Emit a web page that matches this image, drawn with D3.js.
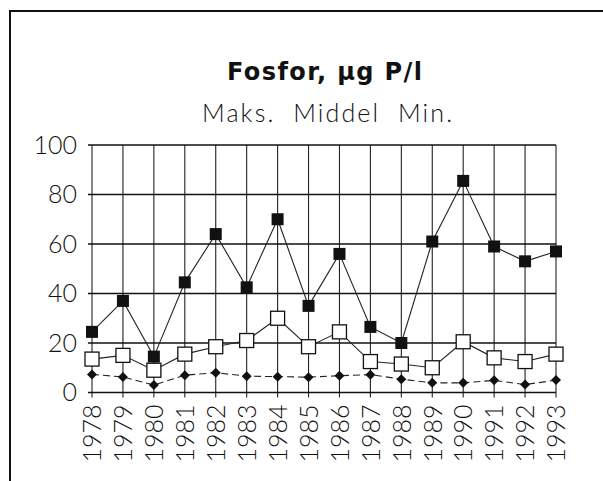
<!DOCTYPE html>
<html><head><meta charset="utf-8">
<script src="https://cdn.jsdelivr.net/npm/d3@7"></script>
<style>body{margin:0;background:#fff}svg{display:block}</style>
</head><body>
<svg id="c" width="603" height="481"></svg>
<script>
const years = ["1978","1979","1980","1981","1982","1983","1984","1985","1986","1987","1988","1989","1990","1991","1992","1993"];
const maks   = [24.5, 37, 14.5, 44.5, 64, 42.5, 70, 35, 56, 26.5, 20, 61, 85.5, 59, 53, 57];
const middel = [13.5, 15, 9, 15.5, 18.5, 21, 30, 18.5, 24.5, 12.5, 11.5, 10, 20.5, 14, 12.5, 15.5];
const minv   = [7.3, 6.3, 3, 7, 8, 6.6, 6.4, 6.2, 6.8, 7.2, 5.4, 3.9, 3.9, 4.9, 3.2, 5];
const yTicks = [0, 20, 40, 60, 80, 100];
const title = "Fosfor, µg P/l";
const subtitle = "Maks.  Middel  Min.";

const FONT = "Lato, 'Open Sans', sans-serif";
const svg = d3.select("#c");
const L = 92, R = 556, T = 145, B = 392.5;
const x = d3.scalePoint().domain(years).range([L, R]);
const y = d3.scaleLinear().domain([0, 100]).range([B, T]);

// frame
svg.append("path").attr("d", "M10,481 L10,11 L603,11").attr("fill","none").attr("stroke","#111").attr("stroke-width",2);

// titles
svg.append("text").attr("x", 227).attr("y", 80)
  .attr("textLength", 195).attr("lengthAdjust", "spacing")
  .attr("font-family", "'DejaVu Sans', sans-serif").attr("font-weight","bold").attr("font-size", 24).attr("fill","#111").text(title);
svg.append("text").attr("x", 202).attr("y", 122).attr("xml:space","preserve")
  .attr("textLength", 250).attr("lengthAdjust", "spacing")
  .style("white-space","pre")
  .attr("font-family", FONT).attr("font-weight","300").attr("font-size", 25).attr("fill","#111").text(subtitle);

const g = svg.append("g");
// vertical grid
g.selectAll(".vg").data(years).join("line")
  .attr("x1", d => x(d)).attr("x2", d => x(d)).attr("y1", T).attr("y2", B + 5)
  .attr("stroke", "#222").attr("stroke-width", 1.1);
// horizontal grid
g.selectAll(".hg").data(yTicks).join("line")
  .attr("x1", L - 4).attr("x2", R).attr("y1", d => y(d)).attr("y2", d => y(d))
  .attr("stroke", "#111").attr("stroke-width", d => d === 0 ? 1.6 : 1.5);

// y axis labels
const ya = svg.append("g").attr("transform", `translate(${L},0)`)
  .call(d3.axisLeft(y).tickValues(yTicks).tickSize(0).tickPadding(15));
ya.select(".domain").remove();
ya.selectAll("text").attr("font-family", FONT).attr("font-weight","300").attr("font-size", 25).attr("fill","#111");

// x axis labels
const xa = svg.append("g").attr("transform", `translate(0,${B})`)
  .call(d3.axisBottom(x).tickSize(0).tickPadding(0));
xa.select(".domain").remove();
xa.selectAll("text").attr("font-family", FONT).attr("font-weight","300").attr("font-size", 25).attr("fill","#111")
  .attr("transform","rotate(-90)").attr("text-anchor","end").attr("dx", -12).attr("dy", "0.35em").attr("x", 0).attr("y", 0);

const line = d3.line().x((d,i) => x(years[i])).y(d => y(d));
// lines
svg.append("path").datum(minv).attr("d", line).attr("fill","none").attr("stroke","#222").attr("stroke-width",1.1).attr("stroke-dasharray","7,4");
svg.append("path").datum(middel).attr("d", line).attr("fill","none").attr("stroke","#222").attr("stroke-width",1.1);
svg.append("path").datum(maks).attr("d", line).attr("fill","none").attr("stroke","#222").attr("stroke-width",1.1);

// markers
svg.selectAll(".mn").data(minv).join("path")
  .attr("transform", (d,i) => `translate(${x(years[i])},${y(d)}) rotate(45)`)
  .attr("d", d3.symbol(d3.symbolSquare, 50)()).attr("fill","#111");
svg.selectAll(".mid").data(middel).join("rect")
  .attr("x", (d,i) => x(years[i]) - 7).attr("y", d => y(d) - 7).attr("width", 14).attr("height", 14)
  .attr("fill","#fff").attr("stroke","#111").attr("stroke-width",1.3);
svg.selectAll(".mx").data(maks).join("rect")
  .attr("x", (d,i) => x(years[i]) - 6).attr("y", d => y(d) - 6).attr("width", 12).attr("height", 12)
  .attr("fill","#111");
</script>
</body></html>
